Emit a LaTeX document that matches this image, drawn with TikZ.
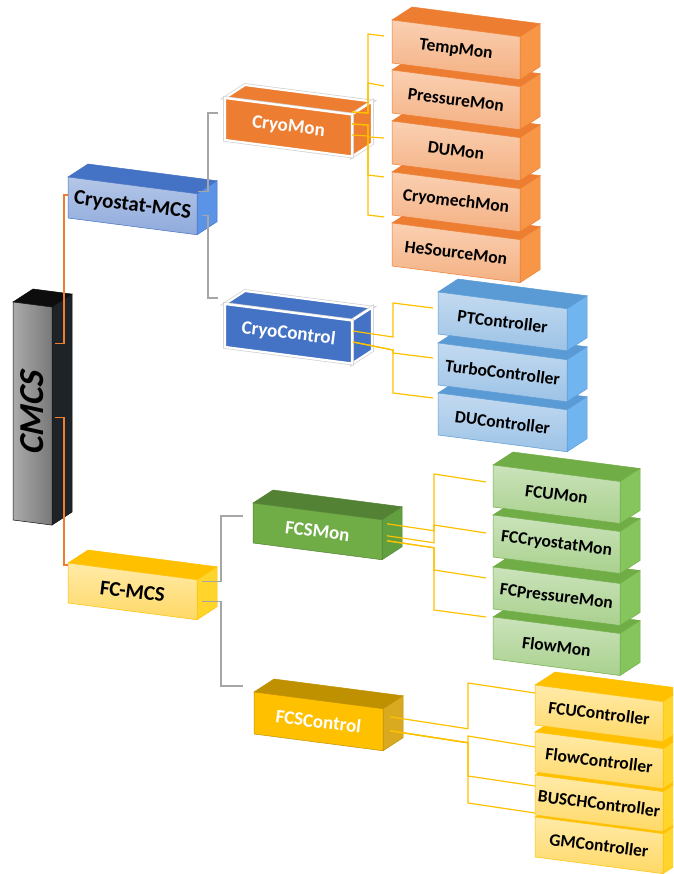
\documentclass[tikz,border=0pt]{standalone}
\usepackage{fontspec}
\setmainfont{Carlito}
\usetikzlibrary{calc}
\definecolor{orT}{HTML}{ED7D31}\definecolor{orS}{HTML}{F79646}
\definecolor{orF1}{HTML}{FAD0B2}\definecolor{orF2}{HTML}{F4B183}
\definecolor{blT}{HTML}{5B9BD5}\definecolor{blS}{HTML}{70B4F0}
\definecolor{blF1}{HTML}{C3DAF0}\definecolor{blF2}{HTML}{9DC3E6}
\definecolor{grT}{HTML}{70AD47}\definecolor{grS}{HTML}{86C45E}
\definecolor{grF1}{HTML}{CBE3BB}\definecolor{grF2}{HTML}{A9D18E}
\definecolor{ylT}{HTML}{FFC000}\definecolor{ylS}{HTML}{FFD52B}
\definecolor{ylF1}{HTML}{FFEAA8}\definecolor{ylF2}{HTML}{FFD966}
\definecolor{cbT}{HTML}{4472C4}\definecolor{cbS}{HTML}{5B93E6}
\definecolor{cbF1}{HTML}{B4C7E7}\definecolor{cbF2}{HTML}{8FAADC}
\definecolor{gmF}{HTML}{70AD47}\definecolor{gmT}{HTML}{548235}\definecolor{gmS}{HTML}{62A03F}
\definecolor{ymF}{HTML}{FFC000}\definecolor{ymT}{HTML}{BF9000}\definecolor{ymS}{HTML}{D9AA20}
\definecolor{omF}{HTML}{ED7D31}\definecolor{bmF}{HTML}{4472C4}
\definecolor{cmF1}{HTML}{ABABAB}\definecolor{cmF2}{HTML}{787878}
\definecolor{cmT}{HTML}{0D0D0D}\definecolor{cmS}{HTML}{1E2327}
\definecolor{gLine}{HTML}{A6A6A6}\definecolor{oLine}{HTML}{ED7D31}\definecolor{yLine}{HTML}{FFC000}
\newcommand\leafF{\fontsize{17.5}{17.5}\selectfont\bfseries}
\newcommand\midF{\fontsize{19}{19}\selectfont\bfseries}
\newcommand\topF{\fontsize{21}{21}\selectfont\bfseries}
\newcommand\cmcsF{\fontsize{35}{35}\selectfont\bfseries\addfontfeature{FakeSlant=0.22}}
\newcommand\mkpalette[6]{%
  \tikzset{#1top/.style={fill=#2,draw=#6,line width=0.5},
           #1side/.style={fill=#3,draw=#6,line width=0.5},
           #1front/.style={top color=#4,bottom color=#5,draw=#6,line width=0.5}}}
\newcommand\mkwhite[4]{%
  \tikzset{#1top/.style={fill=#2,draw=white,line width=2.2,preaction={draw=black!18,line width=3.6}},
           #1side/.style={fill=#3,draw=white,line width=2.2,preaction={draw=black!18,line width=3.6}},
           #1front/.style={fill=#4,draw=white,line width=2.2,preaction={draw=black!18,line width=3.6}}}}
\mkpalette{OL}{orT}{orS}{orF1}{orF2}{orT}
\mkpalette{BL}{blT}{blS}{blF1}{blF2}{blT}
\mkpalette{GL}{grT}{grS}{grF1}{grF2}{grT}
\mkpalette{YL}{ylT}{ylS}{ylF1}{ylF2}{ylT}
\mkpalette{CB}{cbT}{cbS}{cbF1}{cbF2}{cbT}
\mkpalette{FY}{ylT}{ylS}{ylF1}{ylF2}{ylT}
\mkpalette{GM}{gmT}{gmS}{gmF}{gmF}{gmT}
\mkpalette{YM}{ymT}{ymS}{ymF}{ymF}{ymT}
\mkwhite{OM}{omF}{omF}{omF}
\mkwhite{BM}{bmF}{bmF}{bmF}
\mkpalette{CM}{cmT}{cmS}{cmF1}{cmF2}{cmT}
\tikzset{
  CMfront/.style={left color=cmF1,right color=cmF2,draw=cmT,line width=0.5},
  OLfont/.style={font=\leafF,text=black},
  BLfont/.style={font=\leafF,text=black},
  GLfont/.style={font=\leafF,text=black},
  YLfont/.style={font=\leafF,text=black},
  CBfont/.style={font=\topF,text=black},
  FYfont/.style={font=\topF,text=black},
  GMfont/.style={font=\midF,text=white},
  YMfont/.style={font=\midF,text=white},
  OMfont/.style={font=\midF,text=white},
  BMfont/.style={font=\midF,text=white},
  CMfont/.style={font=\cmcsF,text=black,rotate=97},
  gline/.style={draw=gLine,line width=1.2},
  oline/.style={draw=oLine,line width=1.1},
  yline/.style={draw=yLine,line width=1.2}
}
% name, x, y, w, h, palette, text
\newcommand\cubebox[7]{%
  \coordinate (#1-tl) at (#2,#3);
  \coordinate (#1-tr) at ({#2+#4},{#3+0.13*#4});
  \coordinate (#1-br) at ({#2+#4},{#3+#5+0.13*#4});
  \coordinate (#1-bl) at (#2,{#3+#5});
  \path[#6top] (#1-tl) -- ++(20,-13) -- ($(#1-tr)+(20,-13)$) -- (#1-tr) -- cycle;
  \path[#6side] (#1-tr) -- ++(20,-13) -- ($(#1-br)+(20,-13)$) -- (#1-br) -- cycle;
  \path[#6front] (#1-tl) -- (#1-tr) -- (#1-br) -- (#1-bl) -- cycle;
  \node[inner sep=0pt,rotate=-7,#6font] (#1) at ($(#1-tl)!0.5!(#1-br)$) {#7};
  \coordinate (#1-l) at ($(#1-tl)!0.5!(#1-bl)$);
}
\begin{document}
\begin{tikzpicture}[x=1pt,y=-1pt]
\useasboundingbox (0,0) rectangle (673,874);
\clip (0,0) rectangle (673,874);
% yellow leaves (bottom first)
\cubebox{gmc}{535}{817}{128}{40}{YL}{GMController}
\cubebox{busch}{535}{775}{128}{40}{YL}{BUSCHController}
\cubebox{flowc}{535}{732}{128}{40}{YL}{FlowController}
\cubebox{fcuc}{535}{685}{128}{40}{YL}{FCUController}
% green leaves
\cubebox{flowm}{493}{617}{127}{42}{GL}{FlowMon}
\cubebox{fcpm}{493}{567}{127}{42}{GL}{FCPressureMon}
\cubebox{fccm}{493}{515}{127}{42}{GL}{FCCryostatMon}
\cubebox{fcum}{493}{465}{127}{42}{GL}{FCUMon}
% blue leaves
\cubebox{duc}{438}{393}{129}{42}{BL}{DUController}
\cubebox{turbo}{438}{343}{129}{42}{BL}{TurboController}
\cubebox{ptc}{438}{292}{129}{42}{BL}{PTController}
% orange leaves
\cubebox{hes}{392}{223}{128}{43}{OL}{HeSourceMon}
\cubebox{cmech}{392}{172}{128}{43}{OL}{CryomechMon}
\cubebox{dum}{392}{121}{128}{43}{OL}{DUMon}
\cubebox{pres}{392}{70}{128}{43}{OL}{PressureMon}
\cubebox{temp}{392}{20}{128}{43}{OL}{TempMon}
% middle level
\cubebox{cryomon}{225}{98}{127}{42}{OM}{CryoMon}
\cubebox{cryoctl}{225}{304}{127}{43}{BM}{CryoControl}
\cubebox{fcsmon}{253}{503}{129}{40}{GM}{FCSMon}
\cubebox{fcsctl}{254}{692}{129}{42}{YM}{FCSControl}
% top level
\cubebox{cryostat}{68}{177}{129}{41}{CB}{Cryostat-MCS}
\cubebox{fcmcs}{68}{563}{129}{40}{FY}{FC-MCS}
\cubebox{cmcs}{13}{302}{39}{218}{CM}{CMCS}
% CMCS connectors
\draw[oline] ($(cryostat-l)+(0,-2.5)$) -- ++(-4,0) |- ($(cmcs-tr)+(3,36)$);
\draw[oline] ($(fcmcs-tl)+(0,2)$) -- ++(-4,0) |- ($(cmcs-tr)+(3,110)$);
% grey connectors
\draw[gline] ($(cryostat-tr)+(1,-2)$) -- ++(10,0) |- ($(cryomon-tl)+(-7,15)$);
\draw[gline] ($(cryostat-br)+(5,-19)$) -- ++(6,0) |- ($(cryoctl-tl)+(-7,-6)$);
\draw[gline] ($(fcmcs-tr)+(5,2)$) -- ++(19,0) |- ($(fcsmon-tl)+(-10,13)$);
\draw[gline] ($(fcmcs-tr)+(5,22)$) -- ++(19,0) |- ($(fcsctl-tl)+(-11,-6)$);
% CryoMon -> monitors
\draw[yline] ($(cryomon-tr)+(0,-2.5)$) -- ++(16,1) |- ($(temp-tl)+(-24,14)$) -- ($(temp-tl)+(-8,16)$);
\draw[yline] ($(cryomon-tr)+(0,-2.5)$) -- ++(16,1) |- ($(pres-tl)+(-24,13)$) -- ($(pres-tl)+(-8,16)$);
\draw[yline] ($(cryomon-tr)+(0,20.5)$) -- ++(16,1) |- ($(dum-tl)+(-24,16)$) -- ($(dum-tl)+(-8,17)$);
\draw[yline] ($(cryomon-tr)+(0,9.5)$) -- ++(16,1) |- ($(cmech-tl)+(-24,3)$) -- ($(cmech-tl)+(-8,5)$);
\draw[yline] ($(cryomon-tr)+(0,9.5)$) -- ++(16,1) |- ($(hes-tl)+(-24,-8)$) -- ($(hes-tl)+(-8,-6)$);
% CryoControl -> controllers
\draw[yline] ($(cryoctl-tr)+(1,10.5)$) -- ++(40,6) |- ($(ptc-tl)+(-45,11)$) -- ($(ptc-tl)+(-5,16)$);
\draw[yline] ($(cryoctl-tr)+(1,21.5)$) -- ++(40,8) |- ($(turbo-tl)+(-45,10)$) -- ($(turbo-tl)+(-5,15)$);
\draw[yline] ($(cryoctl-tr)+(1,21.5)$) -- ++(40,8) |- ($(duc-tl)+(-45,0)$) -- ($(duc-tl)+(-5,5)$);
% FCSMon -> monitors
\draw[yline] ($(fcsmon-tr)+(5,4)$) -- ++(47,7) |- ($(fcum-tl)+(-59,9)$) -- ($(fcum-tl)+(-7,17)$);
\draw[yline] ($(fcsmon-tr)+(5,16)$) -- ++(47,7) |- ($(fccm-tl)+(-59,10)$) -- ($(fccm-tl)+(-7,18)$);
\draw[yline] ($(fcsmon-tr)+(5,21)$) -- ++(47,7) |- ($(fcpm-tl)+(-59,3)$) -- ($(fcpm-tl)+(-7,11)$);
\draw[yline] ($(fcsmon-tr)+(5,21)$) -- ++(47,7) |- ($(flowm-tl)+(-59,-7)$) -- ($(flowm-tl)+(-7,0)$);
% FCSControl -> controllers
\draw[yline] ($(fcsctl-tr)+(7,8)$) -- ++(78,12) |- ($(fcuc-tl)+(-67,-2)$) -- ($(fcuc-tl)+(0,8)$);
\draw[yline] ($(fcsctl-tr)+(7,22)$) -- ++(78,12) |- ($(flowc-tl)+(-67,4)$) -- ($(flowc-tl)+(0,15)$);
\draw[yline] ($(fcsctl-tr)+(7,22)$) -- ++(78,12) |- ($(busch-tl)+(-67,1)$) -- ($(busch-tl)+(0,11)$);
\draw[yline] ($(fcsctl-tr)+(7,22)$) -- ++(78,12) |- ($(gmc-tl)+(-67,-14)$) -- ($(gmc-tl)+(0,-4)$);
\end{tikzpicture}
\end{document}
